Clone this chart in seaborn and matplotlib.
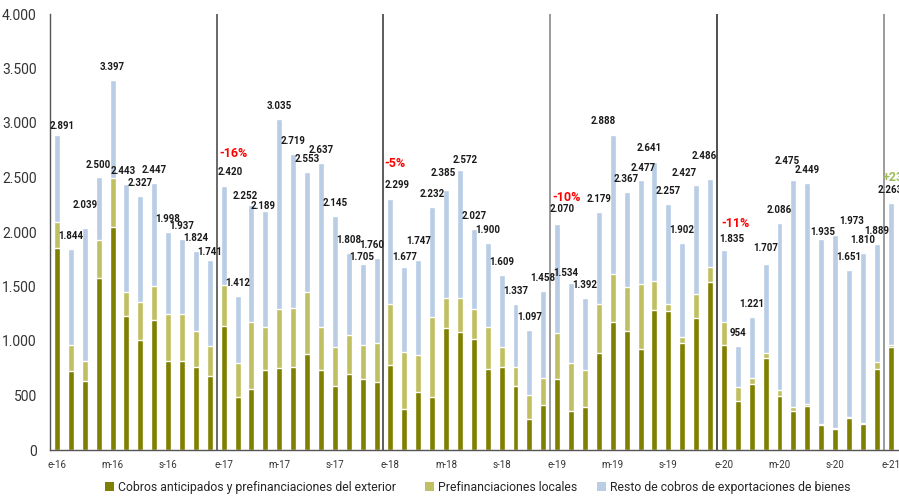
import pandas as pd
import seaborn as sns
import matplotlib.pyplot as plt
from matplotlib.patches import Patch

# Monthly export collections, millions of dollars (Jan-2016 .. Jan-2021)
months = pd.date_range("2016-01-01", "2021-01-01", freq="MS")
month_letters = {1: "e", 5: "m", 9: "s"}

totals = [2891, 1844, 2039, 2500, 3397, 2443, 2327, 2447, 1998, 1937, 1824, 1741,
          2420, 1412, 2252, 2189, 3035, 2719, 2553, 2637, 2145, 1808, 1705, 1760,
          2299, 1677, 1747, 2232, 2385, 2572, 2027, 1900, 1609, 1337, 1097, 1458,
          2070, 1534, 1392, 2179, 2888, 2367, 2477, 2641, 2257, 1902, 2427, 2486,
          1835, 954, 1221, 1707, 2086, 2475, 2449, 1935, 1973, 1651, 1810, 1889,
          2264]
total_labels = [f"{v:,}".replace(",", ".") for v in totals]
total_labels[-1] = "2.263"

exterior = [1850, 727, 635, 1574, 2043, 1227, 1012, 1196, 819, 819, 758, 675,
            1135, 482, 564, 730, 748, 758, 877, 730, 583, 693, 647, 620,
            776, 380, 528, 482, 1117, 1080, 1015, 739, 758, 583, 288, 417,
            647, 362, 399, 887, 1172, 1089, 923, 1282, 1273, 979, 1209, 1540,
            960, 454, 610, 840, 500, 362, 408, 233, 196, 298, 242, 739,
            945]

local = [239, 233, 178, 349, 451, 218, 350, 307, 433, 433, 334, 276,
         377, 312, 608, 402, 543, 543, 571, 402, 359, 359, 313, 359,
         564, 519, 343, 742, 276, 313, 276, 393, 184, 178, 221, 239,
         424, 432, 331, 450, 441, 411, 598, 267, 64, 55, 220, 138,
         212, 120, 46, 47, 46, 28, 18, 8, 5, 5, 5, 65,
         20]

# year-on-year change labels (Jan of each year)
pct_text = ["-16%", "-5%", "-10%", "-11%", "+23%"]
pct_idx = [12.7, 24.35, 36.7, 48.8, 59.45]
pct_y = [2720, 2628, 2317, 2081, 2500]
pct_color = ["#ff0000", "#ff0000", "#ff0000", "#ff0000", "#9bbb59"]

names = ["Cobros anticipados y prefinanciaciones del exterior",
         "Prefinanciaciones locales",
         "Resto de cobros de exportaciones de bienes"]
colors = ["#808000", "#c0c062", "#b9cde5"]

df = pd.DataFrame({"mes": [str(i) for i in range(len(months))],
                   "total": totals, "ext": exterior, "loc": local})
df["ext_loc"] = df["ext"] + df["loc"]
order = list(df["mes"])

sns.set_style("white")
plt.rcParams["font.family"] = ["Roboto", "DejaVu Sans"]

fig = plt.figure(figsize=(8.99, 4.98), dpi=100)
ax = fig.add_axes([50 / 899, 48 / 498, 849 / 899, 436 / 498])

# stacked look: draw cumulative layers on top of each other
sns.barplot(data=df, x="mes", y="total", order=order, color=colors[2],
            width=0.43, saturation=1, ax=ax)
sns.barplot(data=df, x="mes", y="ext_loc", order=order, color=colors[1],
            width=0.43, saturation=1, ax=ax)
sns.barplot(data=df, x="mes", y="ext", order=order, color=colors[0],
            width=0.43, saturation=1, ax=ax)

# label nudges in pixels (dx, dy above bar top) where the original shifts them
nudge = {0: (5, 9), 2: (0, 23), 5: (-3, 13), 11: (0, 8), 12: (7, 14), 14: (-6, 9),
         15: (-2, 5), 22: (-1, 7), 23: (-5, 13), 24: (7, 14), 25: (0, 10), 26: (0, 19),
         28: (-3, 17), 29: (5, 10), 36: (5, 15), 37: (-5, 10), 40: (-10, 14),
         42: (3, 12), 43: (-5, 14), 46: (-12, 12), 47: (-6, 23), 48: (8, 11),
         51: (0, 16), 53: (-6, 19), 55: (2, 7), 56: (17, 14)}
for i, (v, lab) in enumerate(zip(totals, total_labels)):
    dx, dy = nudge.get(i, (0, 13))
    ax.annotate(lab, (i, v), xytext=(dx, dy), textcoords="offset pixels",
                ha="center", va="center", fontsize=7, fontweight="bold",
                color="#1a1a1a", annotation_clip=False)

for t, xi, yi, c in zip(pct_text, pct_idx, pct_y, pct_color):
    ax.text(xi, yi, t, ha="left" if t.startswith("+") else "center",
            va="center", fontsize=9, fontweight="bold", color=c, clip_on=False)

# year separators
sep_colors = ["#404040", "#303030", "#808080", "#202020", "#808080"]
for k, c in enumerate(sep_colors):
    ax.axvline(11.5 + 12 * k, ymin=0, ymax=1, color=c, lw=1.1)

ax.set_xlim(-0.5, 60.6)
ax.set_ylim(0, 4000)
ticks = [i for i, m in enumerate(months) if m.month in month_letters]
ax.set_xticks(ticks)
ax.set_xticklabels([f"{month_letters[months[i].month]}-{months[i].strftime('%y')}"
                    for i in ticks], fontsize=7, color="#333333")
ax.set_yticks(range(0, 4001, 500))
ax.set_yticklabels([f"{v:,}".replace(",", ".") for v in range(0, 4001, 500)],
                   fontsize=10, color="#333333")
ax.tick_params(axis="x", length=0, pad=7)
ax.tick_params(axis="y", direction="in", length=3, width=0.8, color="#555555", pad=9.5)
ax.set_xlabel("")
ax.set_ylabel("")
sns.despine(ax=ax)
for s in ["left", "bottom"]:
    ax.spines[s].set_color("#555555")
    ax.spines[s].set_linewidth(1.0)

fig.text(52 / 899, 1.008, "millones de dólares", fontsize=7.5, color="#444444",
         ha="left", va="center")

# legend entries placed like the original (uneven spacing)
leg_x = [105, 425, 597]
for name, c, lx in zip(names, colors, leg_x):
    fig.legend([Patch(facecolor=c, edgecolor="none")], [name], loc="center left",
               bbox_to_anchor=(lx / 899, 11 / 498), frameon=False, fontsize=8.8,
               handlelength=0.75, handleheight=0.75, handletextpad=0.35,
               borderpad=0, borderaxespad=0)

fig.savefig("out.png", dpi=100)
